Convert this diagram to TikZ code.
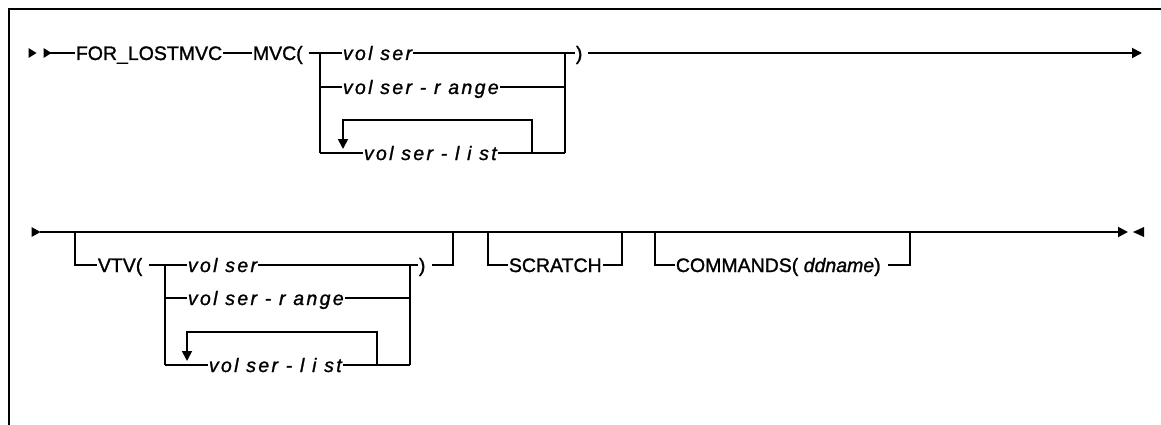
\documentclass[tikz,border=0pt]{standalone}
\usepackage{fontspec}
\setmainfont{Liberation Sans}[FakeBold=1.2]
\newfontfamily\volfont{Liberation Sans}[LetterSpace=12,FakeBold=1.2]
\usetikzlibrary{arrows.meta}
\begin{document}
\begin{tikzpicture}[x=1pt,y=-1pt,line width=1.8pt,
  kw/.style={anchor=west,inner sep=0pt,text height=14pt,text depth=0pt,font=\fontsize{19.5}{20}\selectfont},
  var/.style={kw,font=\fontsize{19.5}{20}\selectfont\volfont\itshape},
  arr/.style={-{Triangle[length=10pt,width=10pt]}},
  frame/.style={line width=2pt}]
\useasboundingbox (0,0) rectangle (1161,425);
% frame
\draw[frame] (9,425) -- (9,9.5) -- (1161,9.5);
% ---------- row 1 ----------
\fill (28.5,48) -- (36.5,53) -- (28.5,58) -- cycle;
\fill (43.5,48) -- (51.5,53) -- (43.5,58) -- cycle;
\coordinate (r1s) at (50,53);
\node[kw] (for) at (75,53) {FOR\_LOSTMVC};
\node[kw] (mvc) at (252,53) {MVC(};
\draw (r1s) -- (for.west);
\draw (for.east) -- (mvc.west);
\coordinate (a1) at (320,53);
\coordinate (a2) at (320,87);
\coordinate (a3) at (320,153);
\coordinate (b1) at (565,53);
\coordinate (b2) at (565,87);
\coordinate (b3) at (565,153);
\draw ([xshift=5pt]mvc.east) -- (a1) -- (a3);
\node[var] (v1) at (342,53) {vol ser};
\node[var] (v2) at (342,87) {vol ser - r ange};
\node[var] (v3) at (363,153) {vol ser - l i st};
\draw (a1) -- (v1.west);
\draw (a2) -- (v2.west);
\draw (a3) -- (v3.west);
\draw (v1.east) -- (b1);
\draw (v2.east) -- (b2);
\draw (v3.east) -- (b3);
\coordinate (l1r) at (532,153);
\coordinate (l1c) at (343,120);
\coordinate (l1t) at (343,153);
\draw[arr] (l1r) |- (l1c) -- ([yshift=4pt]l1t);
\draw (b1) -- (b3);
\node[kw] (cp1) at (575,53) {)};
\draw (b1) -- (cp1.west);
\coordinate (end1) at (1142,53);
\draw[arr] ([xshift=5pt]cp1.east) -- (end1);
% ---------- row 2 ----------
\fill (31.5,227) -- (40.5,232) -- (31.5,237) -- cycle;
\coordinate (r2s) at (40,232);
\coordinate (end2) at (1128,232);
\draw[arr] (r2s) -- (end2);
\fill (1133,232) -- (1144,227) -- (1144,237) -- cycle;
% VTV group
\coordinate (v0) at (75,232);
\coordinate (v0b) at (75,265);
\node[kw] (vtv) at (97,265) {VTV(};
\draw (v0) -- (v0b) -- (vtv.west);
\coordinate (c1) at (165,265);
\coordinate (c2) at (165,298);
\coordinate (c3) at (165,365);
\coordinate (d1) at (410,265);
\coordinate (d2) at (410,298);
\coordinate (d3) at (410,365);
\draw ([xshift=6pt]vtv.east) -- (c1) -- (c3);
\node[var] (w1) at (187,265) {vol ser};
\node[var] (w2) at (187,298) {vol ser - r ange};
\node[var] (w3) at (208,365) {vol ser - l i st};
\draw (c1) -- (w1.west);
\draw (c2) -- (w2.west);
\draw (c3) -- (w3.west);
\node[kw] (cp2) at (418,265) {)};
\draw (w1.east) -- (cp2.west);
\draw (w2.east) -- (d2);
\draw (w3.east) -- (d3);
\draw (d1) -- (d3);
\coordinate (l2r) at (377,365);
\coordinate (l2c) at (187,332);
\coordinate (l2t) at (187,365);
\draw[arr] (l2r) |- (l2c) -- ([yshift=4pt]l2t);
\coordinate (e1) at (453,265);
\coordinate (e0) at (453,232);
\draw ([xshift=6pt]cp2.east) -- (e1) -- (e0);
% SCRATCH
\coordinate (f0) at (488,232);
\coordinate (f1) at (488,265);
\node[kw] (sc) at (508,265) {SCRATCH};
\coordinate (g1) at (622,265);
\coordinate (g0) at (622,232);
\draw (f0) -- (f1) -- (sc.west);
\draw (sc.east) -- (g1) -- (g0);
% COMMANDS
\coordinate (h0) at (655,232);
\coordinate (h1) at (655,265);
\node[kw] (cm) at (675,265) {COMMANDS( \textit{ddname})};
\coordinate (k1) at (910,265);
\coordinate (k0) at (910,232);
\draw (h0) -- (h1) -- (cm.west);
\draw ([xshift=6pt]cm.east) -- (k1) -- (k0);
\end{tikzpicture}
\end{document}
